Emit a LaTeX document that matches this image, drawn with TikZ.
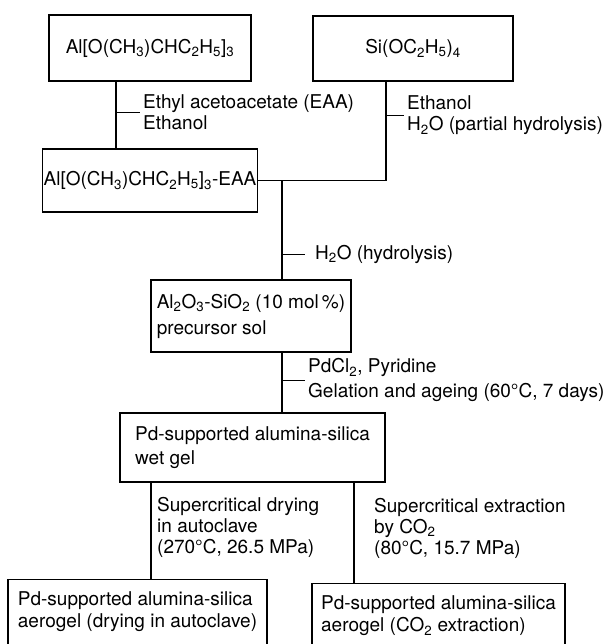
\documentclass[tikz,border=0pt]{standalone}
\usepackage{fontspec}
\setmainfont{TeX Gyre Heros}

\tikzset{
  blok/.style={draw, line width=1.2pt, inner sep=3pt, font=\fontsize{19}{22}\selectfont},
  podp/.style={anchor=west, inner sep=3pt, align=left, font=\fontsize{19}{21}\selectfont},
  liniya/.style={line width=1.2pt},
  chertochka/.style={line width=0.9pt}
}

\begin{document}
\begin{tikzpicture}[x=1pt, y=-1pt]
                \useasboundingbox ( 0, 0 ) rectangle ( 614, 644 );
                \clip ( 0, 0 ) rectangle ( 614, 644 );
% блоки
                \node [blok, minimum width=202pt, minimum height=66pt] (b1) at ( 150, 48 )
                      {Al[O(CH\textsubscript{3})CHC\textsubscript{2}H\textsubscript{5}]\textsubscript{3}};
                \node [blok, minimum width=200pt, minimum height=65pt] (bsi) at ( 413, 48.5 )
                      {Si(OC\textsubscript{2}H\textsubscript{5})\textsubscript{4}};
                \node [blok, inner xsep=1pt, minimum width=212pt, minimum height=63pt] (beaa) at ( 150, 180.5 )
                      {Al[O(CH\textsubscript{3})CHC\textsubscript{2}H\textsubscript{5}]\textsubscript{3}-EAA};
                \node [blok, align=left, minimum width=200pt, minimum height=72pt] (bsol) at ( 251, 316 )
                      {Al\textsubscript{2}O\textsubscript{3}-SiO\textsubscript{2} (10 mol\,\%)\\[4pt]precursor sol};
                \node [blok, align=left, minimum width=265pt, minimum height=69pt] (bwet) at ( 252.5, 447.5 )
                      {Pd-supported alumina-silica\\[2pt]wet gel};
                \node [blok, align=left, anchor=north, minimum width=259pt, inner ysep=12.5pt] (bauto) at ( 137.5, 579 )
                      {Pd-supported alumina-silica\\aerogel (drying in autoclave)\rule[-50pt]{0pt}{50pt}};
                \node [blok, align=left, anchor=north, minimum width=253pt, inner ysep=12.5pt] (bco2) at ( 438.5, 583 )
                      {Pd-supported alumina-silica\\aerogel (CO\textsubscript{2} extraction)\rule[-50pt]{0pt}{50pt}};

% подписи
                \node [podp] (lab1) at ( 140, 112.5 ) {Ethyl acetoacetate (EAA)\\Ethanol};
                \node [podp] (lab2) at ( 404, 115.5 ) {Ethanol\\H\textsubscript{2}O (partial hydrolysis)};
                \node [podp] (lab3) at ( 312, 254 ) {H\textsubscript{2}O (hydrolysis)};
                \node [podp] (lab4) at ( 305, 380 ) {PdCl\textsubscript{2}, Pyridine\\[4pt]Gelation and ageing (60°C, 7 days)};
                \node [podp] (lab5) at ( 154, 527 ) {Supercritical drying\\in autoclave\\(270°C, 26.5 MPa)};
                \node [podp] (lab6) at ( 371, 528 ) {Supercritical extraction\\by CO\textsubscript{2}\\(80°C, 15.7 MPa)};

% линии
                \coordinate (xa) at ( 116, 0 );
                \coordinate (xs) at ( 386, 0 );
                \coordinate (xm) at ( 282, 0 );
                \coordinate (xl) at ( 151, 0 );
                \coordinate (xr) at ( 354, 0 );
                \draw [liniya] (xa |- b1.south) -- (xa |- beaa.north);
                \draw [liniya, line width=1.6pt] (xs |- bsi.south) |- (beaa.east);
                \draw [liniya] (xm |- beaa.east) -- (xm |- bsol.north);
                \draw [liniya] (xm |- bsol.south) -- (xm |- bwet.north);
                \draw [liniya] (xl |- bwet.south) -- (xl |- bauto.north);
                \draw [liniya] (xr |- bwet.south) -- (xr |- bco2.north);

% черточки
                \draw [chertochka] (xa |- lab1.west) -- (lab1.west);
                \draw [chertochka] (xs |- lab2.west) -- (lab2.west);
                \draw [chertochka] (xm |- lab3.west) -- ([xshift=-7pt]lab3.west);
                \draw [chertochka] (xm |- lab4.west) -- (lab4.west);
\end{tikzpicture}
\end{document}
